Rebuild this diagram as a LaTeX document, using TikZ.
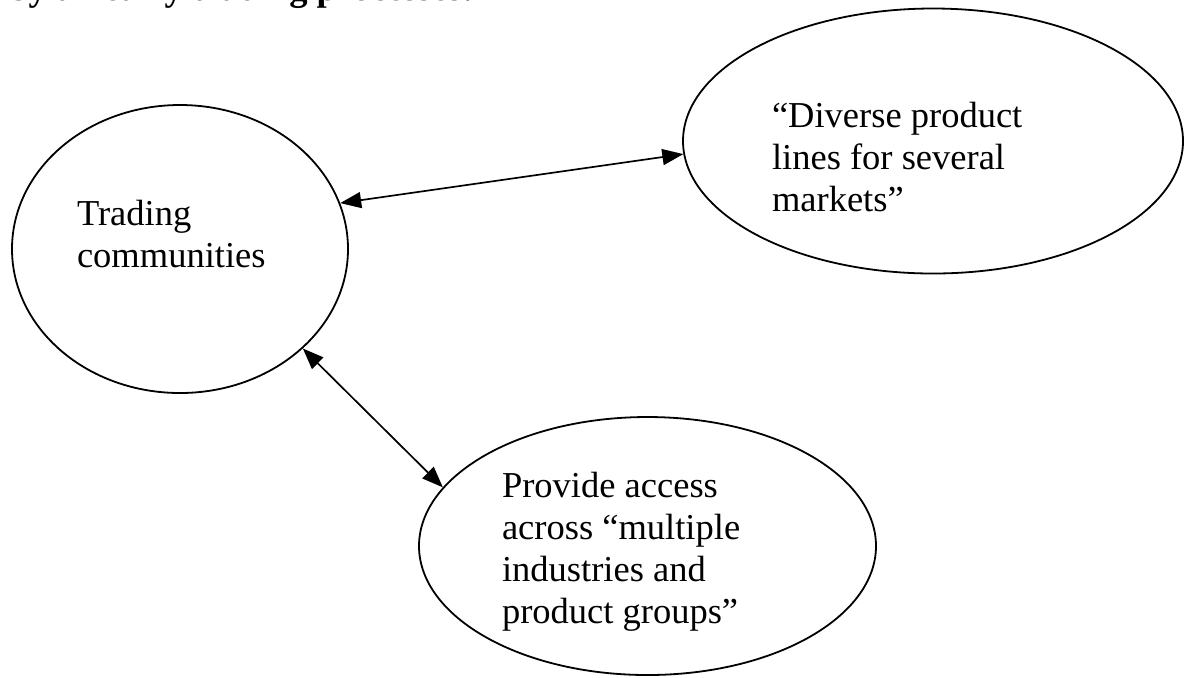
\documentclass[tikz,border=0pt]{standalone}
\usepackage{fontspec}
\setmainfont{Liberation Serif}
\usetikzlibrary{shapes.geometric,arrows.meta}
\tikzset{
  bubble/.style={draw, ellipse, line width=0.9pt, inner sep=0pt},
  label/.style={anchor=base west, align=left, inner sep=0pt, outer sep=0pt,
    font=\fontsize{18.25pt}{21pt}\selectfont},
  head/.style={anchor=base west, inner sep=0pt,
    font=\fontsize{18.25pt}{21pt}\selectfont\bfseries},
  link/.style={line width=0.85pt, {Triangle[length=10.5pt,width=8pt]}-{Triangle[length=10.5pt,width=8pt]}}
}
\begin{document}
\begin{tikzpicture}[x=0.5pt,y=-0.5pt]
\useasboundingbox (0,0) rectangle (1186,677);
\clip (0,0) rectangle (1186,677);
\node[head] (hd) at (8,0) {by an early trading processes:};
\node[bubble, minimum width=168pt, minimum height=144pt] (tc) at (180,249) {};
\node[bubble, minimum width=250pt, minimum height=132.5pt] (dp) at (933,141) {};
\node[bubble, minimum width=228.5pt, minimum height=129pt] (pa) at (647.5,546) {};
\node[label] (tct) at (77,267) {Trading\\communities};
\node[label] (dpt) at (772,211) {``Diverse product\\lines for several\\markets''};
\node[label] (pat) at (502,623) {Provide access\\across ``multiple\\industries and\\product groups''};
\draw[link] (tc.16) -- (dp.183);
\draw[link] (tc.-39) -- (pa.164);
\end{tikzpicture}
\end{document}
